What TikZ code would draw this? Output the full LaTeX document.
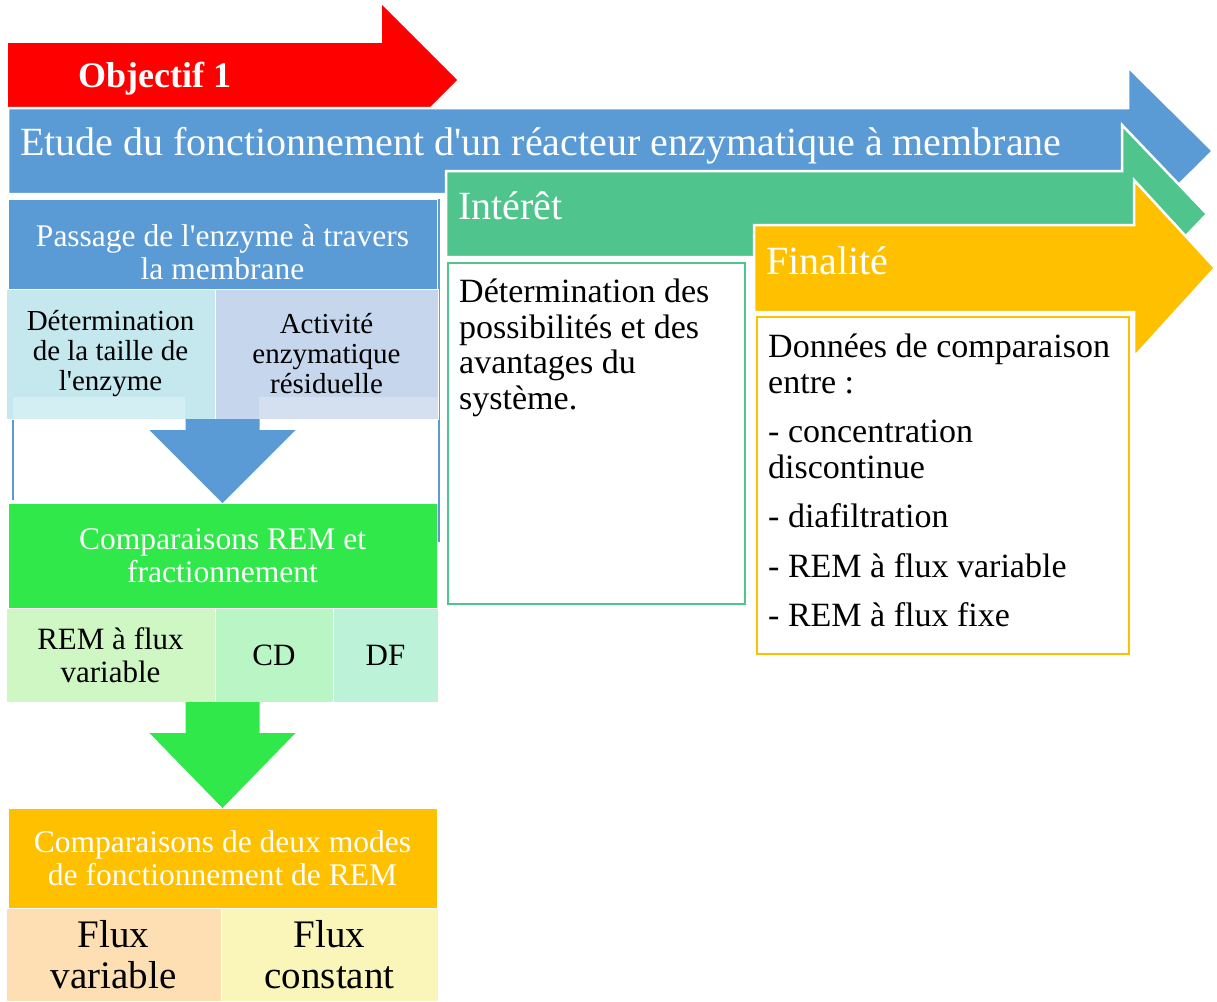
\documentclass[tikz,border=0pt]{standalone}
\usepackage{fontspec}
\setmainfont{Liberation Serif}[Ligatures=TeXOff]
\usetikzlibrary{positioning}
\definecolor{remRed}{HTML}{FF0000}
\definecolor{remBlue}{HTML}{5B9BD5}
\definecolor{remTeal}{HTML}{4FC58D}
\definecolor{remOrange}{HTML}{FFC000}
\definecolor{remGreen}{HTML}{30E849}
\definecolor{remCyan}{HTML}{C5E7EE}
\definecolor{remCyanPale}{HTML}{D4EFF3}
\definecolor{remSlate}{HTML}{C6D6EC}
\definecolor{remSlatePale}{HTML}{D4E0EF}
\definecolor{remMint}{HTML}{CFF7C3}
\definecolor{remMintB}{HTML}{B9F5C5}
\definecolor{remMintC}{HTML}{BCF3D8}
\definecolor{remPeach}{HTML}{FEDFB3}
\definecolor{remCream}{HTML}{FAF5B8}
\tikzset{
  % Block arrows across the top: a white rim so they read as stacked.
  rem/bar/.style={draw=white, line width=2.5pt, line join=miter},
  % Heading of a column block, white text on solid colour.
  rem/head/.style={draw=white, line width=1pt, outer sep=0pt, inner sep=2pt,
    align=center, text=white, minimum width=429pt, anchor=north west},
  % Pale cells under a heading.
  rem/cell/.style={draw=white, line width=1pt, outer sep=0pt, inner sep=2pt,
    align=center, text=black},
  % Framed white boxes on the right; their text is set on its own.
  rem/frame/.style={fill=white, line width=2.5pt, outer sep=0pt, inner sep=0pt,
    anchor=north west},
  rem/txt/.style={inner sep=0pt, anchor=north west, align=left, text=black,
    font=\fontsize{34}{35.5}\selectfont},
  % Text sitting on a block arrow.
  rem/onbar/.style={inner sep=0pt, anchor=base west, text=white,
    font=\fontsize{40}{42}\selectfont},
}

\begin{document}
\begin{tikzpicture}[x=1pt,y=-1pt,
  hd/.style={font=\fontsize{31.5}{33}\selectfont},
  sm/.style={font=\fontsize{29}{30}\selectfont},
  md/.style={font=\fontsize{31}{33}\selectfont},
  lg/.style={font=\fontsize{39}{41}\selectfont}]
  \useasboundingbox (0,0) rectangle (1217,1001);
  % block arrows, back to front
  \fill[remRed] (8,43) -- (382,43) -- (382,5) -- (457,80) -- (382,155) -- (382,117) -- (8,117) -- cycle;
  \filldraw[rem/bar, fill=remBlue] (8,108) -- (1128,108) -- (1128,67) -- (1213,151) -- (1128,235) -- (1128,194) -- (8,194) -- cycle;
  \filldraw[rem/bar, fill=remTeal] (446,171) -- (1122,171) -- (1122,125) -- (1207,214) -- (1122,303) -- (1122,257) -- (446,257) -- cycle;
  \filldraw[rem/bar, fill=remOrange] (754,225) -- (1134,225) -- (1134,180) -- (1215,268) -- (1134,357) -- (1134,312) -- (754,312) -- cycle;
  \node[rem/onbar, font=\fontsize{36}{38}\selectfont\bfseries] (obj) at (78,87) {Objectif 1};
  \node[rem/onbar] (etude) at (20,155) {Etude du fonctionnement d'un réacteur enzymatique à membrane};
  \node[rem/onbar] (intlab) at (458,219) {Intérêt};
  \node[rem/onbar] (finlab) at (766,274) {Finalité};

  % left column
  \draw[remBlue, line width=2pt] (13,397) -- (13,500);
  \draw[remBlue, line width=2pt] (439,199) -- (439,542);
  \node[rem/head, hd, fill=remBlue, minimum height=90pt] (passage) at (8,199) {\rule{0pt}{38pt}Passage de l'enzyme à travers\\la membrane};
  \node[rem/cell, sm, fill=remCyan, minimum width=209pt, minimum height=130pt, anchor=north west] (taille) at (6,289) {Détermination\\de la taille de\\l'enzyme};
  \node[rem/cell, sm, fill=remSlate, minimum width=223pt, minimum height=130pt, right=0pt of taille] (activite) {Activité\\enzymatique\\résiduelle};
  \fill[remCyanPale] (13,397) rectangle (185,419);
  \fill[remSlatePale] (259,397) rectangle (438,419);
  \node[rem/head, hd, fill=remGreen, minimum height=105pt] (comp) at (8,503) {Comparaisons REM et\\fractionnement};
  \fill[remBlue] (comp.north) -- ++(-73,-73) -- ++(36,0) -- ++(0,-11) -- ++(74,0) -- ++(0,11) -- ++(36,0) -- cycle;
  \node[rem/cell, md, fill=remMint, minimum width=209pt, minimum height=94pt, anchor=north west] (remvar) at (6,608) {REM à flux\\variable};
  \node[rem/cell, md, fill=remMintB, minimum width=118pt, minimum height=94pt, right=0pt of remvar] (cd) {CD};
  \node[rem/cell, md, fill=remMintC, minimum width=105pt, minimum height=94pt, right=0pt of cd] (df) {DF};
  \node[rem/head, hd, fill=remOrange, minimum height=100pt] (mode) at (8,808) {Comparaisons de deux modes\\de fonctionnement de REM};
  \fill[remGreen] (mode.north) -- ++(-73,-75) -- ++(36,0) -- ++(0,-31) -- ++(74,0) -- ++(0,31) -- ++(36,0) -- cycle;
  \node[rem/cell, lg, fill=remPeach, minimum width=215pt, minimum height=93pt, anchor=north west] (fluxvar) at (6,908) {Flux\\variable};
  \node[rem/cell, lg, fill=remCream, minimum width=217pt, minimum height=93pt, right=0pt of fluxvar] (fluxcst) {Flux\\constant};

  % framed boxes on the right
  \node[rem/frame, draw=remTeal, minimum width=297pt, minimum height=341pt] (intbox) at (448,263) {};
  \node[rem/txt] (inttxt) at ([shift={(11,16)}]intbox.north west) {Détermination des\\possibilités et des\\avantages du\\système.};
  \node[rem/frame, draw=remOrange, minimum width=372pt, minimum height=337pt] (finbox) at (757,317) {};
  \node[rem/txt] (fintxt) at ([shift={(11,17)}]finbox.north west) {Données de comparaison\\entre :\\[14pt]- concentration\\discontinue\\[14pt]- diafiltration\\[14pt]- REM à flux variable\\[14pt]- REM à flux fixe};
\end{tikzpicture}
\end{document}
